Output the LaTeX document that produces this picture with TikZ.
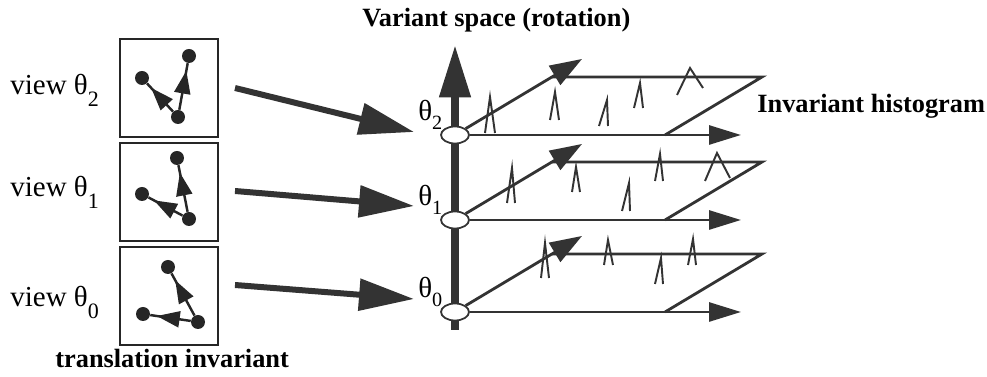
\documentclass[tikz,border=0pt]{standalone}
\usepackage{fontspec}
\setmainfont{Liberation Serif}
\usetikzlibrary{arrows.meta,shapes.geometric,decorations.markings}
\newcommand{\thsub}[1]{θ\raisebox{-6.5pt}{\fontsize{12.5}{12.5}\selectfont #1}}

\begin{document}
\begin{tikzpicture}[x=0.02cm, y=-0.02cm,
  vbox/.style  = {draw=black!85, line width=1.4pt, minimum size=1.96cm, inner sep=0},
  dot/.style   = {circle, fill=black!85, inner sep=0, minimum size=0.28cm},
  parr/.style  = {line width=1.4pt, color=black!85, postaction={decorate},
                  decoration={markings, mark=at position 0.84 with
                    {\arrow{Triangle[length=0.46cm,width=0.32cm]}}}},
  bigarr/.style = {-{Triangle[length=1.1cm,width=0.62cm]}, line width=0.12cm, color=black!80},
  axarr/.style = {-{Triangle[length=1.05cm,width=0.6cm]}, line width=0.16cm, color=black!80},
  pl/.style    = {line width=1.6pt, color=black!80},
  plarr/.style = {pl, -{Triangle[length=0.64cm,width=0.38cm]}},
  obarr/.style = {pl, -{Triangle[length=0.64cm,width=0.44cm]}},
  ell/.style   = {ellipse, draw=black!80, fill=white, line width=1pt,
                  minimum width=0.56cm, minimum height=0.34cm, inner sep=0},
  pk/.style    = {line width=1.1pt, color=black!80},
  vlab/.style  = {font=\fontsize{16.5}{18}\selectfont, inner sep=0},
  thlab/.style = {font=\fontsize{16.5}{18}\selectfont, inner sep=0},
  blab/.style  = {font=\fontsize{15}{18}\selectfont\bfseries, inner sep=0},
]
\useasboundingbox (0,0) rectangle (987,377);

% views
\foreach \k/\yc/\yv in {0/296/307, 1/192/197, 2/88/95}{
  \node[vbox] (b\k) at (169,\yc) {};
  \node[vlab, anchor=base west] (v\k) at (10,\yv) {view \thsub{\k}};
}
\node[dot] (q20) at (178,117) {};
\node[dot] (q21) at (189,56) {};
\node[dot] (q22) at (142,78) {};
\node[dot] (q10) at (189,219) {};
\node[dot] (q11) at (177,158) {};
\node[dot] (q12) at (142,194) {};
\node[dot] (q00) at (198,322) {};
\node[dot] (q01) at (168,267) {};
\node[dot] (q02) at (143,314) {};
\foreach \k in {0,1,2}{
  \draw[parr] (q\k0) -- (q\k1);
  \draw[parr] (q\k0) -- (q\k2);
}
\node[blab, anchor=base west] (tinv) at (55,368) {translation invariant};

% variant axis
\coordinate (axb) at (455,330);
\coordinate (axt) at (455,45);
\draw[axarr] (axb) -- (axt);
\node[blab, anchor=base west] (vsp) at (362,27) {Variant space (rotation)};

% histogram planes
\foreach \k/\yb/\ys/\ye in {0/312/285/299, 1/220/191/206, 2/135/88/132}{
  \coordinate (s\k) at (235,\ys);
  \coordinate (f\k) at (414,\ye);
  \draw[bigarr] (s\k) -- (f\k);
  \node[ell] (e\k) at (455,\yb) {};
  \node[thlab, anchor=base west] (th\k) at (418,\yb-14)
    {θ\raisebox{-5pt}{\fontsize{11.5}{11.5}\selectfont\k}};
  \coordinate (t\k) at (582,\yb-76);
  \coordinate (tl\k) at (552,\yb-58);
  \coordinate (tr\k) at (762,\yb-58);
  \coordinate (br\k) at (665,\yb);
  \coordinate (r\k) at (741,\yb);
  \draw[obarr] (e\k) -- (t\k);
  \draw[pl] (tl\k) -- (tr\k) -- (br\k);
  \draw[plarr] (e\k) -- (r\k);
}
\foreach \ax/\ay/\lx/\ly/\rx/\ry in {
    490/97/485/133/495/133, 555/92/550/120/559/120, 607/100/599/126/608/126,
    640/83/634/108/643/108, 690/68/677/95/703/88,
    512/168/507/203/515/203, 576/167/572/192/580/192, 660/154/655/181/663/181,
    717/153/705/181/730/178, 629/183/622/211/630/211,
    545/243/541/278/549/278, 608/240/604/265/613/265, 661/258/655/284/663/284,
    693/239/688/265/696/265}
  \draw[pk] (\lx,\ly) -- (\ax,\ay) -- (\rx,\ry);
\node[blab, anchor=base west] (ihist) at (757,113) {Invariant histogram};
\end{tikzpicture}
\end{document}
